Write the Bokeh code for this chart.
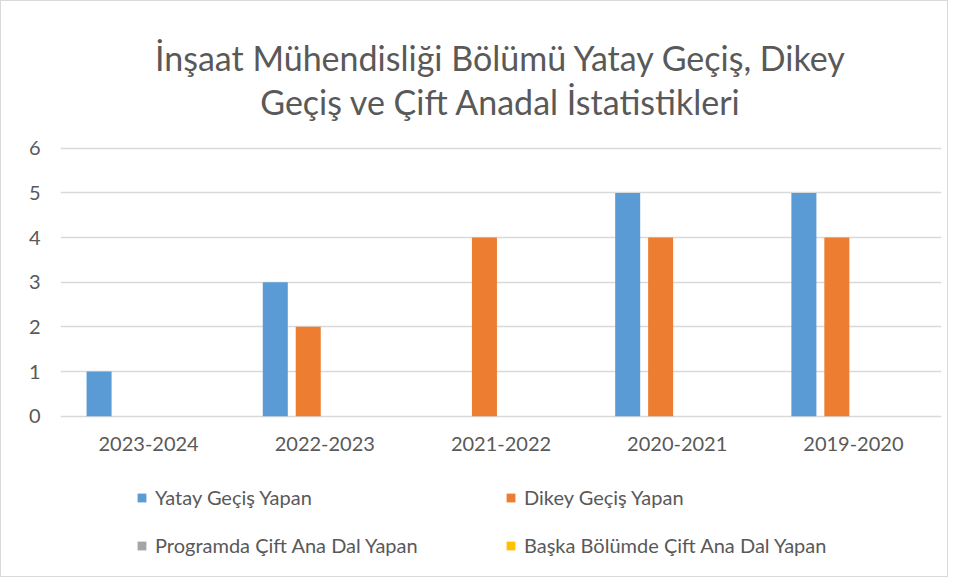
from bokeh.plotting import figure
from bokeh.models import ColumnDataSource, FactorRange, Range1d, FixedTicker, Legend, LegendItem, Title
from bokeh.core.properties import value
from bokeh.transform import dodge
from bokeh.embed import file_html
from bokeh.resources import INLINE

years = ["2023-2024", "2022-2023", "2021-2022", "2020-2021", "2019-2020"]
yatay = [1, 3, 0, 5, 5]
dikey = [0, 2, 4, 4, 4]
programda_cift = [0, 0, 0, 0, 0]
baska_cift = [0, 0, 0, 0, 0]
series_names = ["Yatay Geçiş Yapan", "Dikey Geçiş Yapan",
                "Programda Çift Ana Dal Yapan", "Başka Bölümde Çift Ana Dal Yapan"]
series_keys = ["yatay", "dikey", "programda", "baska"]
colors = ["#5B9BD5", "#ED7D31", "#A5A5A5", "#FFC000"]
title_lines = ["İnşaat Mühendisliği Bölümü Yatay Geçiş, Dikey",
               "Geçiş ve Çift Anadal İstatistikleri"]
y_ticks = [0, 1, 2, 3, 4, 5, 6]

FONT = "Lato"
TXT = "#595959"

source = ColumnDataSource(dict(years=years, yatay=yatay, dikey=dikey,
                               programda=programda_cift, baska=baska_cift,
                               base=[0] * len(years)))

# y range extends below zero so that the category labels and legend sit inside the frame
p = figure(width=948, height=577, x_range=FactorRange(*years), y_range=Range1d(-3.547, 6.04),
           x_axis_location=None, output_backend="svg", toolbar_location=None,
           min_border_left=59, min_border_right=8, min_border_top=145, min_border_bottom=4)
p.styles = {"border": "1px solid #D9D9D9"}
p.outline_line_color = None
p.xgrid.grid_line_color = None
p.ygrid.grid_line_color = "#D9D9D9"
p.ygrid.grid_line_width = 1.5
p.yaxis.ticker = FixedTicker(ticks=y_ticks)
p.yaxis.axis_line_color = None
p.yaxis.major_tick_line_color = None
p.yaxis.minor_tick_line_color = None
p.yaxis.major_tick_out = 0
p.yaxis.major_label_text_font = FONT
p.yaxis.major_label_text_font_size = "20px"
p.yaxis.major_label_text_color = TXT
p.yaxis.major_label_standoff = 20

offsets = [-0.281, -0.094, 0.094, 0.281]
renderers = []
for key, off, col in zip(series_keys, offsets, colors):
    r = p.vbar(x=dodge("years", off, range=p.x_range), top=key, bottom="base", width=0.142,
               source=source, fill_color=col, line_color=None)
    renderers.append(r)

# category labels under the zero line
p.text(x="years", y="base", text="years", source=source, y_offset=21,
       text_align="center", text_baseline="top", text_font=value(FONT),
       text_font_size="20px", text_color=TXT)

legend = Legend(items=[LegendItem(label=n, renderers=[r]) for n, r in zip(series_names, renderers)],
                location=(76, 14), orientation="horizontal", ncols=2,
                glyph_width=11, glyph_height=11, label_standoff=8, label_height=30,
                spacing=18, label_width=332, padding=0, margin=0,
                border_line_color=None, background_fill_alpha=0,
                label_text_font=FONT, label_text_font_size="20px", label_text_color=TXT)
p.add_layout(legend, "center")

p.title = Title(text="\n".join(title_lines), align="center", text_align="center", text_font=FONT,
                text_font_size="34px", text_font_style="normal", text_color=TXT,
                text_line_height=1.08, standoff=49)

open("out.html", "w").write(file_html(p, INLINE))
